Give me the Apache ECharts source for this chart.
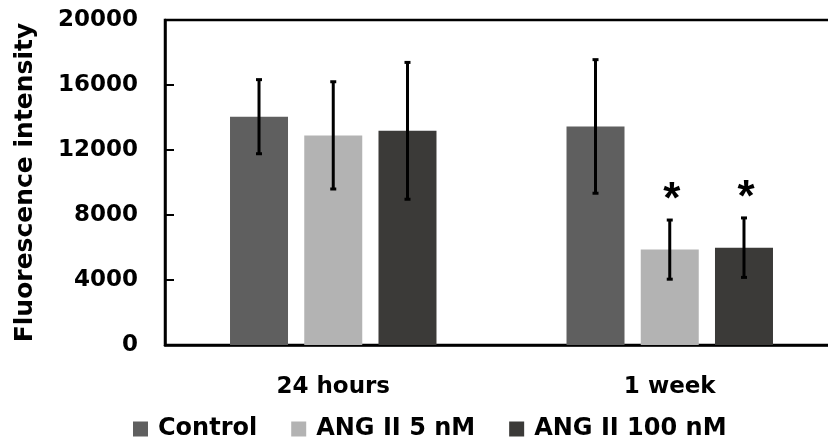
<!DOCTYPE html>
<html>
<head>
<meta charset="utf-8">
<script src="https://cdn.jsdelivr.net/npm/echarts@6/dist/echarts.min.js"></script>
<style>
  html, body { margin: 0; padding: 0; background: #fff; }
  #chart { width: 828px; height: 441px; }
</style>
</head>
<body>
<div id="chart"></div>
<script>
const categories = ['24 hours', '1 week']
const seriesNames = ['Control', 'ANG II 5 nM', 'ANG II 100 nM']
const controlMean = [14050, 13450]
const controlSd = [2280, 4110]
const ang5Mean = [12900, 5870]
const ang5Sd = [3300, 1820]
const ang100Mean = [13180, 5990]
const ang100Sd = [4210, 1830]
const sigControl = ['', '']
const sigAng5 = ['', '*']
const sigAng100 = ['', '*']
const yTicks = { min: 0, max: 20000, interval: 4000 }

const COLORS = ['#5f5f5f', '#b3b3b3', '#3b3a38']
const FONT = 'DejaVu Sans'
const BAR_W = 58
const GAP = 0.28

const means = [controlMean, ang5Mean, ang100Mean]
const sds = [controlSd, ang5Sd, ang100Sd]
const sigs = [sigControl, sigAng5, sigAng100]

// error bar rows: [category, series index, low, high, mark]
const errRows = []
means.forEach((m, s) => {
  m.forEach((v, c) => errRows.push([c, s, v - sds[s][c], v + sds[s][c], sigs[s][c]]))
})

const chart = echarts.init(document.getElementById('chart'), null, { renderer: 'canvas' })

const option = {
  animation: false,
  textStyle: { fontFamily: FONT },
  grid: {
    left: 165, top: 20, height: 325, width: 673,
    outerBoundsMode: 'none',
    containLabel: false,
    show: true, borderColor: '#000', borderWidth: 2.5,
  },
  legend: {
    data: seriesNames,
    left: 128, top: 412,
    icon: 'rect', itemWidth: 15, itemHeight: 15, itemGap: 34,
    textStyle: {
      fontFamily: FONT, fontWeight: 'bold', fontSize: 24, color: '#000',
      padding: [0, 0, 0, 5],
    },
  },
  xAxis: {
    type: 'category',
    data: categories,
    axisLine: { lineStyle: { color: '#000', width: 2.5 } },
    axisTick: { show: false },
    axisLabel: { color: '#000', fontWeight: 'bold', fontSize: 23, margin: 31, fontFamily: FONT },
  },
  yAxis: {
    type: 'value',
    ...yTicks,
    name: 'Fluorescence intensity',
    nameLocation: 'middle',
    nameRotate: 90,
    nameGap: 127,
    nameTextStyle: { color: '#000', fontWeight: 'bold', fontSize: 25, fontFamily: FONT },
    axisLine: { show: true, lineStyle: { color: '#000', width: 2.5 } },
    axisTick: { show: true, inside: true, length: 9, lineStyle: { color: '#000', width: 2 } },
    splitLine: { show: false },
    axisLabel: {
      color: '#000', fontWeight: 'bold', fontSize: 23, margin: 27, fontFamily: FONT,
      formatter: v => String(v),
    },
  },
  series: [
    ...seriesNames.map((name, i) => ({
      name,
      type: 'bar',
      data: means[i],
      barWidth: BAR_W,
      barGap: (GAP * 100) + '%',
      itemStyle: { color: COLORS[i] },
    })),
    {
      type: 'custom',
      data: errRows,
      z: 10,
      silent: true,
      renderItem(params, api) {
        const cat = api.value(0)
        const s = api.value(1)
        const lo = api.coord([cat, api.value(2)])
        const hi = api.coord([cat, api.value(3)])
        const x = lo[0] + (s - 1) * BAR_W * (1 + GAP)
        const cap = 3
        const style = { stroke: '#000', lineWidth: 3 }
        const children = [
          { type: 'line', shape: { x1: x, y1: lo[1], x2: x, y2: hi[1] }, style },
          { type: 'line', shape: { x1: x - cap, y1: lo[1], x2: x + cap, y2: lo[1] }, style },
          { type: 'line', shape: { x1: x - cap, y1: hi[1], x2: x + cap, y2: hi[1] }, style },
        ]
        const mark = errRows[params.dataIndex][4]
        if (mark) {
          children.push({
            type: 'text',
            style: {
              text: mark, x: x + 2, y: hi[1] + 3,
              align: 'center', verticalAlign: 'bottom',
              fontSize: 44, fontWeight: 'bold', fontFamily: 'Liberation Sans', fill: '#000',
            },
          })
        }
        return { type: 'group', children }
      },
    },
  ],
}

chart.setOption(option)
</script>
</body>
</html>
